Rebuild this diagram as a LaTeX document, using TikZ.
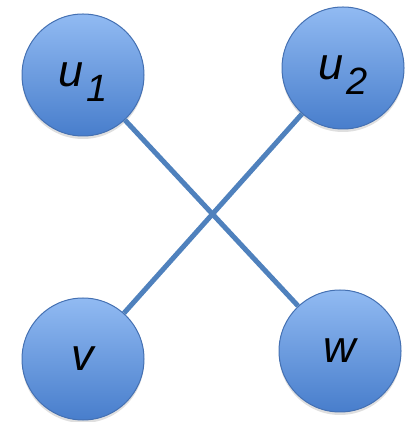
\documentclass[tikz,border=0pt]{standalone}
\usepackage{fontspec}
\setmainfont{Liberation Sans}
\usetikzlibrary{positioning,shadows}
\definecolor{nodetop}{RGB}{145,186,242}
\definecolor{nodebot}{RGB}{72,126,204}
\definecolor{nodeline}{RGB}{68,112,178}
\definecolor{edgeblue}{RGB}{79,129,189}
\newcommand{\sublab}[1]{\kern3pt\smash{\raisebox{-15pt}{\fontsize{38}{38}\selectfont #1}}}

\begin{document}
\begin{tikzpicture}[x=1pt, y=1pt,
        every node/.style={circle, draw=nodeline, line width=1pt,
                           top color=nodetop, bottom color=nodebot,
                           minimum size=122pt, inner sep=0pt,
                           drop shadow={shadow xshift=0pt, shadow yshift=-3pt, opacity=0.25},
                           font=\fontsize{45}{45}\selectfont\itshape}]
      \useasboundingbox (0,0) rectangle (409,422);
      \node (u1) at (83,347)  {u\sublab{1}};
      \node (u2) at (343,354) {u\sublab{2}};
      \node (v)  at (83,63)   {v};
      \node (w)  at (340,71)  {w};
      \draw[edgeblue, line width=5pt] (u1) -- (w);
      \draw[edgeblue, line width=5pt] (u2) -- (v);
    \end{tikzpicture}
\end{document}
